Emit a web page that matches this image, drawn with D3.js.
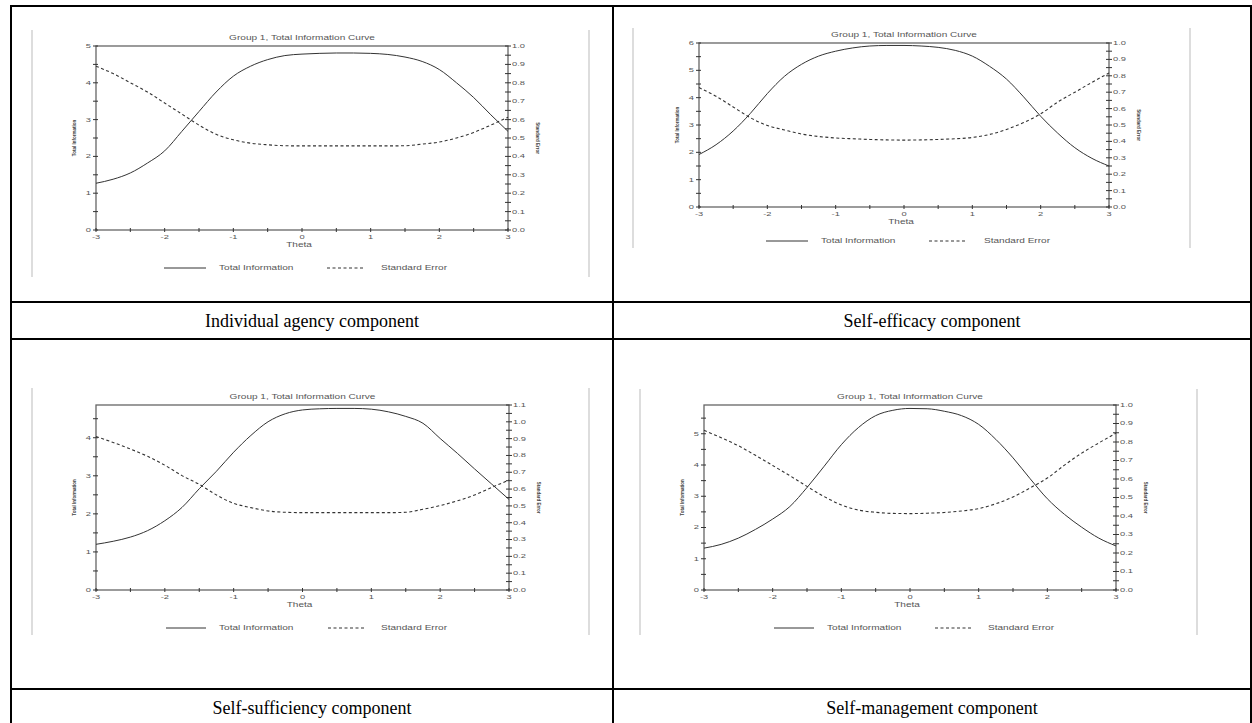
<!DOCTYPE html>
<html>
<head>
<meta charset="utf-8">
<script src="https://cdn.jsdelivr.net/npm/d3@7"></script>
<style>
  body { margin: 0; background: #fff; }
  svg { display: block; }
</style>
</head>
<body>
<svg id="page" width="1252" height="723"></svg>
<script>
// theta grid shared by all four curves
var theta = [-3, -2.75, -2.5, -2.25, -2, -1.75, -1.5, -1.25, -1, -0.75, -0.5, -0.25,
  0, 0.25, 0.5, 0.75, 1, 1.25, 1.5, 1.75, 2, 2.25, 2.5, 2.75, 3];

var info1 = [1.27, 1.38, 1.55, 1.82, 2.15, 2.68, 3.22, 3.75, 4.18, 4.45, 4.63, 4.74,
  4.78, 4.80, 4.81, 4.81, 4.80, 4.77, 4.70, 4.58, 4.36, 4.00, 3.60, 3.13, 2.68];
var se1 = [0.89, 0.85, 0.80, 0.75, 0.69, 0.63, 0.57, 0.52, 0.49, 0.472, 0.463, 0.458,
  0.457, 0.457, 0.457, 0.457, 0.457, 0.457, 0.458, 0.467, 0.478, 0.50, 0.53, 0.57, 0.613];

var info2 = [1.92, 2.28, 2.78, 3.42, 4.15, 4.78, 5.22, 5.52, 5.70, 5.82, 5.89, 5.91,
  5.91, 5.89, 5.84, 5.73, 5.52, 5.15, 4.68, 4.03, 3.32, 2.70, 2.17, 1.78, 1.50];
var se2 = [0.728, 0.675, 0.61, 0.545, 0.497, 0.47, 0.445, 0.43, 0.421, 0.416, 0.412, 0.409,
  0.408, 0.409, 0.412, 0.416, 0.424, 0.442, 0.473, 0.515, 0.568, 0.64, 0.70, 0.76, 0.817];

var info3 = [1.20, 1.28, 1.39, 1.56, 1.82, 2.17, 2.66, 3.12, 3.62, 4.06, 4.42, 4.63,
  4.73, 4.76, 4.77, 4.77, 4.75, 4.68, 4.56, 4.38, 3.98, 3.59, 3.18, 2.78, 2.38];
var se3 = [0.912, 0.877, 0.838, 0.795, 0.742, 0.68, 0.628, 0.565, 0.515, 0.49, 0.47, 0.462,
  0.46, 0.46, 0.46, 0.46, 0.46, 0.46, 0.462, 0.48, 0.502, 0.53, 0.565, 0.61, 0.654];

var info4 = [1.34, 1.46, 1.66, 1.94, 2.27, 2.67, 3.28, 3.96, 4.65, 5.20, 5.58, 5.75,
  5.81, 5.80, 5.72, 5.58, 5.30, 4.82, 4.23, 3.56, 2.92, 2.42, 2.01, 1.66, 1.41];
var se4 = [0.863, 0.823, 0.78, 0.728, 0.673, 0.618, 0.56, 0.505, 0.46, 0.432, 0.42, 0.414,
  0.413, 0.415, 0.419, 0.427, 0.44, 0.466, 0.503, 0.552, 0.605, 0.675, 0.74, 0.795, 0.848];

var captions = ["Individual agency component", "Self-efficacy component",
  "Self-sufficiency component", "Self-management component"];
var chartTitle = "Group 1, Total Information Curve";
var legendLabels = ["Total Information", "Standard Error"];
var thetaTicks = [-3, -2, -1, 0, 1, 2, 3];
var infoMax = [5, 6, 4.86, 5.92];
var seMax = [1.0, 1.0, 1.1, 1.0];

var infoSeries = [info1, info2, info3, info4];
var seSeries = [se1, se2, se3, se4];

// where each embedded chart sits on the page
var layout = [
  {frame: [32, 589, 30, 277], plot: [96, 508, 46, 230], leg: 38, legX: [164, 206, 219, 327, 365, 381]},
  {frame: [633, 1190, 28, 248], plot: [699, 1109, 43, 207], leg: 34, legX: [766, 808, 821, 929, 966, 984]},
  {frame: [32, 589, 388, 635], plot: [96, 509, 405, 590], leg: 38, legX: [166, 206, 219, 328, 366, 381]},
  {frame: [640, 1197, 389, 635], plot: [704, 1116, 405, 590], leg: 38, legX: [774, 814, 827, 935, 973, 988]}
];

var svg = d3.select("#page");
var ink = "#333", grey = "#666";
var small = "Liberation Sans, Arial, sans-serif";
var stretch = 1.55; // the embedded pictures were widened, so is their text

// small stretched label inside the chart pictures
function label(g, x, y, txt, size, anchor) {
  return g.append("text")
    .attr("transform", "translate(" + x + "," + y + ") scale(" + stretch + ",1)")
    .attr("text-anchor", anchor || "start")
    .attr("dominant-baseline", "central")
    .attr("font-family", small).attr("font-size", size).attr("fill", "#555")
    .text(txt);
}

// ---- table grid ----
var colX = [11, 613, 1251];
var rowY = [6, 302, 339, 689, 726];
var grid = svg.append("g").attr("stroke", "#000").attr("stroke-width", 2);
rowY.forEach(function(y) {
  grid.append("line").attr("x1", colX[0] - 1).attr("x2", colX[2] + 1).attr("y1", y).attr("y2", y);
});
colX.forEach(function(x) {
  grid.append("line").attr("x1", x).attr("x2", x).attr("y1", rowY[0] - 1).attr("y2", rowY[4]);
});

captions.forEach(function(c, i) {
  var col = i % 2, row = Math.floor(i / 2);
  svg.append("text")
    .attr("x", (colX[col] + colX[col + 1]) / 2)
    .attr("y", (rowY[row * 2 + 1] + rowY[row * 2 + 2]) / 2)
    .attr("text-anchor", "middle")
    .attr("dominant-baseline", "central")
    .attr("font-family", "Liberation Serif, Times New Roman, serif")
    .attr("font-size", 18)
    .attr("fill", "#000")
    .text(c);
});

// ---- the four information charts ----
layout.forEach(function(L, i) {
  var g = svg.append("g");
  var l = L.plot[0], r = L.plot[1], t = L.plot[2], b = L.plot[3];

  // faint picture frame edges
  [L.frame[0], L.frame[1]].forEach(function(x) {
    g.append("line").attr("x1", x).attr("x2", x).attr("y1", L.frame[2]).attr("y2", L.frame[3])
      .attr("stroke", "#bbb").attr("stroke-width", 1);
  });

  var x = d3.scaleLinear().domain([-3, 3]).range([l, r]);
  var yInfo = d3.scaleLinear().domain([0, infoMax[i]]).range([b, t]);
  var ySe = d3.scaleLinear().domain([0, seMax[i]]).range([b, t]);

  g.append("rect").attr("x", l).attr("y", t).attr("width", r - l).attr("height", b - t)
    .attr("fill", "none").attr("stroke", grey).attr("stroke-width", 1.3);

  label(g, (l + r) / 2, t - 8, chartTitle, 6.5, "middle");

  // ticks crossing the axis lines
  var xMinor = d3.range(-3, 3.01, 0.5);
  g.selectAll(".xt").data(xMinor).enter().append("line")
    .attr("x1", x).attr("x2", x).attr("y1", b - 2).attr("y2", b + 2)
    .attr("stroke", ink).attr("stroke-width", 1);
  thetaTicks.forEach(function(d) { label(g, x(d), b + 7, d, 6, "middle"); });
  label(g, x(0) - 3, b + 15, "Theta", 6.5, "middle");

  var infoMinor = d3.range(0, infoMax[i] + 0.001, 0.5);
  g.selectAll(".yt").data(infoMinor).enter().append("line")
    .attr("x1", l - 3).attr("x2", l + 2).attr("y1", yInfo).attr("y2", yInfo)
    .attr("stroke", ink).attr("stroke-width", 1);
  d3.range(0, Math.floor(infoMax[i]) + 1).forEach(function(d) {
    label(g, l - 5, yInfo(d), d, 6, "end");
  });

  var seMinor = d3.range(0, seMax[i] + 0.001, 0.05);
  g.selectAll(".st").data(seMinor).enter().append("line")
    .attr("x1", r - 3).attr("x2", r + 3).attr("y1", ySe).attr("y2", ySe)
    .attr("stroke", ink).attr("stroke-width", 1);
  d3.range(0, seMax[i] + 0.001, 0.1).forEach(function(d) {
    label(g, r + 4, ySe(d), d3.format(".1f")(d), 6, "start");
  });

  // axis titles, tiny and rotated as in the source picture
  g.append("text")
    .attr("transform", "translate(" + (l - 22) + "," + (t + b) / 2 + ") rotate(-90)")
    .attr("text-anchor", "middle").attr("dominant-baseline", "central")
    .attr("font-family", small).attr("font-size", 4.5).attr("font-weight", "bold").attr("fill", "#444")
    .text("Total Information");
  g.append("text")
    .attr("transform", "translate(" + (r + 29) + "," + (t + b) / 2 + ") rotate(90)")
    .attr("text-anchor", "middle").attr("dominant-baseline", "central")
    .attr("font-family", small).attr("font-size", 4.5).attr("font-weight", "bold").attr("fill", "#444")
    .text("Standard Error");

  var infoLine = d3.line().x(function(d, k) { return x(theta[k]); })
    .y(function(d) { return yInfo(d); }).curve(d3.curveMonotoneX);
  var seLine = d3.line().x(function(d, k) { return x(theta[k]); })
    .y(function(d) { return ySe(d); }).curve(d3.curveMonotoneX);

  g.append("path").attr("d", infoLine(infoSeries[i]))
    .attr("fill", "none").attr("stroke", ink).attr("stroke-width", 1);
  g.append("path").attr("d", seLine(seSeries[i]))
    .attr("fill", "none").attr("stroke", ink).attr("stroke-width", 1.1)
    .attr("stroke-dasharray", "3,2.5");

  // legend
  var ly = b + L.leg;
  g.append("line").attr("x1", L.legX[0]).attr("x2", L.legX[1]).attr("y1", ly).attr("y2", ly)
    .attr("stroke", ink).attr("stroke-width", 1);
  g.append("line").attr("x1", L.legX[3]).attr("x2", L.legX[4]).attr("y1", ly).attr("y2", ly)
    .attr("stroke", ink).attr("stroke-width", 1.1).attr("stroke-dasharray", "3,2.5");
  label(g, L.legX[2], ly, legendLabels[0], 6.5, "start");
  label(g, L.legX[5], ly, legendLabels[1], 6.5, "start");
});
</script>
</body>
</html>
